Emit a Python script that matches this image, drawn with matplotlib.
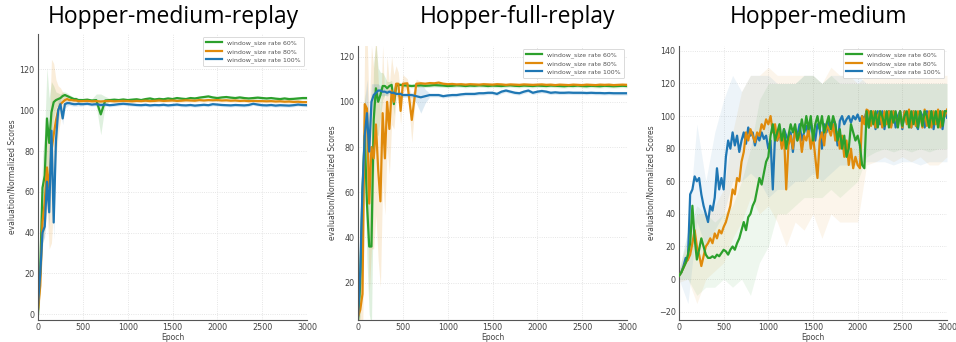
import numpy as np
import matplotlib
matplotlib.use("Agg")
import matplotlib.pyplot as plt

# ---------------- data ----------------
labels = ["window_size rate 60%", "window_size rate 80%", "window_size rate 100%"]
colors = ["#2ca02c", "#e08a0b", "#1f77b4"]
titles = ["Hopper-medium-replay", "Hopper-full-replay", "Hopper-medium"]

# epochs for panels 1 and 2 (fine early, coarser later)
epochs_12 = list(range(0, 500, 25)) + list(range(500, 3001, 50))
# epochs for panel 3
epochs_3 = list(range(0, 3001, 25))
band_epochs_3 = list(range(0, 3001, 100))

# ---- Hopper-medium-replay ----
p1_green = [0, 22, 62, 68, 96, 84, 99, 104, 105, 105.5, 106, 107, 107.5, 107, 106.5, 106, 105.5, 105.5, 105, 105,
            105.0, 105.2, 104.8, 105.0, 98.0, 104.8, 105.0, 105.2, 105.0, 105.3,
            105.0, 105.2, 105.4, 105.0, 105.5, 105.8, 105.3, 105.6, 105.4, 105.8,
            105.5, 106.0, 105.7, 105.5, 106.0, 105.8, 106.2, 106.5, 106.8, 106.3,
            106.0, 106.3, 106.5, 106.2, 106.0, 106.3, 106.0, 105.8, 106.0, 106.2,
            106.0, 105.8, 106.0, 105.7, 105.5, 105.8, 105.5, 105.6, 105.8, 106.0,
            106.0]
p1_orange = [2, 14, 45, 55, 72, 62, 80, 88, 95, 100, 103, 104, 105, 105.5, 105, 105, 104.8, 104.8, 104.5, 104.5,
             104.5, 104.6, 104.4, 104.5, 104.3, 104.5, 104.6, 104.4, 104.5, 104.6,
             104.5, 104.4, 104.6, 104.5, 104.7, 104.5, 104.6, 104.8, 104.6, 104.7,
             104.8, 104.6, 104.7, 104.9, 104.8, 104.7, 105.0, 104.8, 105.0, 104.9,
             105.0, 104.8, 104.9, 104.7, 104.8, 104.6, 104.7, 104.5, 104.6, 104.5,
             104.5, 104.4, 104.5, 104.3, 104.4, 104.2, 104.3, 104.1, 104.2, 104.0,
             104.0]
p1_blue = [5, 20, 40, 43, 65, 50, 90, 45, 85, 100, 103, 96, 103, 103.5, 103.5, 103.2, 103, 103, 103.2, 103,
           103.0, 103.2, 102.8, 103.0, 102.6, 102.8, 102.5, 102.7, 103.0, 103.2,
           103.0, 102.8, 102.6, 102.5, 102.7, 102.4, 102.6, 102.5, 102.7, 102.4,
           102.6, 102.8, 102.5, 102.4, 102.6, 102.3, 102.5, 102.7, 102.5, 103.0,
           102.8, 102.6, 102.5, 102.4, 102.6, 102.5, 102.4, 102.6, 103.2, 102.8,
           102.5, 102.4, 102.6, 102.3, 102.5, 102.4, 102.3, 102.5, 102.8, 102.6,
           102.5]
p1_green_sd = [2, 8, 15, 22, 25, 22, 15, 8, 4, 3, 2, 2, 1.5, 1.5, 1.2, 1, 1, 1, 1, 1,
               0.8, 0.8, 0.8, 3, 10, 2] + [0.8] * 45
p1_orange_sd = [2, 6, 12, 15, 20, 30, 45, 35, 20, 12, 8, 5, 3, 2, 1.5, 1.2, 1, 1, 1, 1] + [0.8] * 51
p1_blue_sd = [2, 4, 5, 5, 8, 8, 10, 8, 8, 5, 3, 3, 2, 1.5, 1, 1, 1, 1, 1, 1] + [0.8] * 51

# ---- Hopper-full-replay ----
p2_green = [3, 20, 60, 85, 55, 36, 36, 92, 106, 100, 103, 107, 107, 106, 107, 107.5, 99, 107, 107.5, 107.5,
            107.3, 107.2, 107.0, 107.2, 107.3, 107.1, 107.2, 107.4, 107.3, 107.2,
            107.0, 107.1, 107.3, 107.2, 107.0, 107.2, 107.1, 107.3, 107.2, 107.0,
            107.2, 107.1, 107.0, 107.2, 107.3, 107.1, 107.0, 107.2, 107.1, 107.0,
            107.2, 107.1, 107.0, 107.2, 107.1, 107.0, 106.9, 107.1, 107.0, 107.2,
            107.0, 106.9, 107.1, 107.0, 106.9, 107.1, 107.0, 106.9, 107.0, 107.1,
            107.0]
p2_orange = [5, 8, 15, 99, 97, 55, 80, 75, 90, 70, 56, 95, 75, 100, 88, 105, 100, 108, 108, 96,
             108.0, 108.2, 92.0, 108.0, 108.2, 108.0, 108.3, 108.2, 108.5, 108.0,
             107.8, 107.9, 107.7, 107.8, 107.6, 107.8, 107.7, 107.6, 107.8, 107.7,
             107.6, 107.8, 107.7, 107.5, 107.7, 107.6, 107.5, 107.7, 107.6, 107.5,
             107.6, 107.7, 107.5, 107.6, 107.4, 107.6, 107.5, 107.4, 107.6, 107.5,
             107.4, 107.6, 107.5, 107.4, 107.6, 107.5, 107.6, 107.4, 107.5, 107.6,
             107.5]
p2_blue = [5, 25, 62, 85, 95, 78, 100, 103, 104, 105, 105, 104.5, 104.5, 104, 104.5, 104, 104, 103.5, 103.5, 103.5,
           103.0, 103.0, 103.0, 102.5, 102.0, 102.5, 103.0, 103.0, 103.0, 102.5,
           102.8, 103.0, 103.0, 103.3, 103.5, 103.5, 103.5, 103.8, 103.8, 104.0,
           104.0, 103.5, 104.5, 105.0, 104.5, 104.0, 103.8, 104.5, 105.0, 104.0,
           104.5, 104.8, 104.5, 104.0, 104.2, 104.0, 104.0, 104.1, 104.0, 104.0,
           104.0, 103.9, 104.0, 103.9, 103.9, 103.8, 103.9, 103.8, 103.8, 103.8,
           103.8]
p2_green_sd = [5, 15, 25, 20, 25, 30, 35, 25, 20, 15, 10, 6, 4, 3, 2, 2, 5, 2, 1, 1] + [0.8] * 51
p2_orange_sd = [5, 10, 25, 30, 35, 40, 45, 40, 40, 40, 38, 30, 25, 20, 20, 15, 12, 8, 5, 6,
                4, 2, 10, 2] + [0.8] * 47
p2_blue_sd = [3, 8, 15, 15, 15, 12, 8, 5, 4, 3, 2, 2, 1.5, 1.5, 1, 1, 1, 1, 1, 1,
              1, 1, 1, 3, 7, 3] + [0.8] * 45

# ---- Hopper-medium ----
p3_blue = [2, 4, 8, 13, 12, 52, 55, 63, 60, 62,
           52, 45, 40, 35, 45, 42, 50, 68, 55, 62,
           55, 75, 85, 80, 90, 82, 88, 78, 85, 90,
           83, 93, 88, 90, 82, 88, 85, 90, 86, 88,
           80, 85, 55, 88, 85, 90, 82, 92, 88, 85,
           90, 78, 92, 88, 95, 85, 90, 94, 88, 96,
           90, 85, 95, 92, 80, 95, 90, 97, 92, 98,
           95, 82, 97, 100, 95, 98, 100, 96, 100, 98,
           101, 97, 100, 98, 103,
           93, 103, 100, 92, 103, 95, 103, 92, 102, 103,
           94, 103, 93, 100, 103, 92, 103, 96, 103, 93,
           103, 95, 92, 103, 100, 93, 103, 94, 103, 92,
           102, 95, 103, 92, 103, 99]
p3_orange = [2, 4, 7, 10, 12, 15, 22, 30, 20, 15,
             8, 14, 20, 22, 25, 22, 28, 25, 30, 28,
             32, 35, 40, 45, 55, 52, 62, 60, 72, 78,
             90, 85, 92, 88, 84, 90, 88, 95, 92, 98,
             95, 100, 90, 95, 85, 92, 80, 90, 55, 82,
             88, 80, 92, 85, 90, 78, 88, 85, 92, 80,
             88, 75, 62, 85, 90, 82, 95, 92, 88, 95,
             85, 90, 80, 88, 75, 85, 70, 80, 68, 75,
             70, 68, 100, 95, 104,
             103, 94, 103, 93, 100, 103, 93, 103, 95, 103,
             93, 103, 100, 94, 103, 93, 103, 95, 104, 93,
             103, 94, 103, 100, 93, 104, 94, 103, 93, 103,
             95, 104, 93, 103, 100, 104]
p3_green = [2, 4, 7, 10, 15, 22, 45, 25, 12, 18,
            25, 20, 15, 13, 13, 14, 13, 15, 14, 16,
            18, 17, 15, 18, 20, 18, 22, 25, 30, 35,
            30, 38, 40, 45, 48, 55, 62, 58, 65, 72,
            75, 88, 95, 85, 90, 95, 85, 92, 80, 88,
            95, 90, 95, 85, 90, 98, 90, 100, 92, 100,
            85, 95, 100, 92, 100, 90, 95, 100, 92, 100,
            95, 85, 92, 80, 88, 75, 80, 95, 90, 85,
            88, 82, 70, 68, 103,
            93, 103, 95, 103, 93, 103, 100, 94, 103, 93,
            103, 96, 103, 93, 103, 94, 100, 103, 93, 103,
            95, 103, 93, 103, 94, 103, 100, 93, 103, 95,
            103, 93, 103, 94, 103, 103]
p3_green_lo = [0, 0, -10, -5, -5, 0, -5, 0, -10, 10, 20, 40, 40, 45, 50, 50, 50, 55, 50, 55, 60,
               75, 78, 80, 78, 80, 78, 80, 78, 80, 80]
p3_green_hi = [5, 30, 45, 40, 35, 40, 45, 60, 80, 110, 120, 120, 120, 120, 125, 125, 120, 125, 120, 120, 120,
               120, 120, 120, 120, 120, 120, 120, 120, 120, 120]
p3_orange_lo = [-2, 0, -15, 0, 5, 10, 25, 35, 50, 40, 45, 35, 20, 35, 30, 40, 25, 40, 35, 35, 35,
                70, 72, 75, 72, 75, 72, 75, 70, 70, 75]
p3_orange_hi = [6, 25, 40, 40, 45, 55, 90, 115, 125, 125, 130, 125, 125, 125, 125, 125, 120, 130, 125, 125, 120,
                125, 125, 125, 125, 125, 125, 125, 125, 125, 125]
p3_blue_lo = [0, -15, 35, 20, 30, 40, 60, 60, 65, 60, 50, 55, 55, 60, 60, 65, 60, 65, 70, 70, 70,
              72, 72, 72, 70, 72, 72, 70, 72, 72, 72]
p3_blue_hi = [5, 30, 95, 60, 90, 110, 125, 115, 125, 125, 125, 120, 120, 120, 125, 125, 120, 125, 125, 125, 125,
              120, 120, 120, 120, 120, 120, 120, 120, 120, 120]

ylims = [(-2.8, 137.4), (3.5, 124.7), (-25.1, 143)]
yticks = [[0, 20, 40, 60, 80, 100, 120], [20, 40, 60, 80, 100, 120],
          [-20, 0, 20, 40, 60, 80, 100, 120, 140]]
xticks = [0, 500, 1000, 1500, 2000, 2500, 3000]

# ---------------- figure ----------------
W, H = 956, 342
fig = plt.figure(figsize=(W / 100, H / 100), dpi=100)
fig.patch.set_facecolor("white")

def px_axes(l, r, t, b):
    return fig.add_axes([l / W, 1 - b / H, (r - l) / W, (b - t) / H])

axes = [px_axes(38, 307, 34, 320), px_axes(358, 627, 46, 320), px_axes(679, 947, 46, 320)]

def make_legend(ax, handles=None):
    kw = dict(loc="upper right", fontsize=4.5, frameon=True, framealpha=1,
              edgecolor="#cccccc", borderpad=0.5, handlelength=2.6, labelspacing=0.35)
    if handles is None:
        leg = ax.legend(**kw)
    else:
        leg = ax.legend(handles, labels, **kw)
    leg.get_frame().set_linewidth(0.5)
    for t in leg.get_texts():
        t.set_color("#555555")

def style(ax, i):
    ax.set_xlim(0, 3000)
    ax.set_ylim(*ylims[i])
    ax.set_xticks(xticks)
    ax.set_yticks(yticks[i])
    for s in ["top", "right"]:
        ax.spines[s].set_visible(False)
    for s in ["left", "bottom"]:
        ax.spines[s].set_color("#555555")
        ax.spines[s].set_linewidth(0.8)
    ax.grid(True, color="#dddddd", linestyle=":", linewidth=0.6)
    ax.set_axisbelow(True)
    ax.tick_params(axis="both", labelsize=5.8, colors="#444444", length=0, pad=2.5)
    ax.set_xlabel("Epoch", fontsize=5.5, color="#444444", labelpad=0.5)
    ax.set_ylabel("evaluation/Normalized Scores", fontsize=5.5, color="#444444", labelpad=2)

panel12 = [
    ([p1_green, p1_orange, p1_blue], [p1_green_sd, p1_orange_sd, p1_blue_sd]),
    ([p2_green, p2_orange, p2_blue], [p2_green_sd, p2_orange_sd, p2_blue_sd]),
]
x12 = np.array(epochs_12)
for i, (means, sds) in enumerate(panel12):
    ax = axes[i]
    for m, sd, c, lab in zip(means, sds, colors, labels):
        m = np.array(m, float)
        sd = np.array(sd, float)
        ax.fill_between(x12, m - sd, m + sd, color=c, alpha=0.15, linewidth=0)
        ax.plot(x12, m, color=c, linewidth=1.6, label=lab)
    style(ax, i)
    make_legend(ax)

ax = axes[2]
x3 = np.array(epochs_3)
xb = np.array(band_epochs_3)
for lo, hi, c in zip([p3_green_lo, p3_orange_lo, p3_blue_lo],
                     [p3_green_hi, p3_orange_hi, p3_blue_hi], colors):
    ax.fill_between(xb, lo, hi, color=c, alpha=0.08, linewidth=0)
hb, = ax.plot(x3, p3_blue, color=colors[2], linewidth=1.6, zorder=3)
ho, = ax.plot(x3, p3_orange, color=colors[1], linewidth=1.6, zorder=4)
hg, = ax.plot(x3, p3_green, color=colors[0], linewidth=1.6, zorder=5)
style(ax, 2)
make_legend(ax, [hg, ho, hb])

title_x = [173, 517, 819]
for tx, t in zip(title_x, titles):
    fig.text(tx / W, 1 - 17 / H, t, ha="center", va="center", fontsize=16.5,
             family="Open Sans", color="black")

fig.savefig("out.png", dpi=100, facecolor="white")
